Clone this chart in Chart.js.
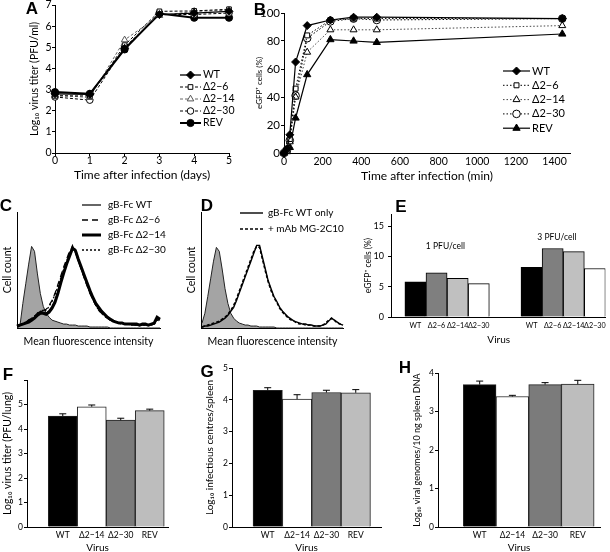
<!DOCTYPE html>
<html>
<head>
<meta charset="utf-8">
<title>Figure</title>
<script src="https://cdn.jsdelivr.net/npm/chart.js@4.4.1/dist/chart.umd.min.js"></script>
<style>
  html, body { margin: 0; padding: 0; background: #fff; }
  #fig { position: relative; width: 610px; height: 552px; overflow: hidden; }
  #fig canvas { position: absolute; }
</style>
</head>
<body>
<div id="fig"></div>
<script>
const W = 610, H = 552;
const SANS = 'Lato, "Open Sans", sans-serif';
const BOLD = '"Liberation Sans", Arial, sans-serif';
const black = '#000';

// A - virus growth in culture (log10 PFU/ml)
const A_DAYS = [0, 1, 2, 3, 4, 5];
const A_WT  = [2.80, 2.78, 4.95, 6.55, 6.62, 6.70];
const A_D6  = [2.70, 2.70, 5.10, 6.70, 6.72, 6.80];
const A_D14 = [2.75, 2.62, 5.35, 6.50, 6.70, 6.75];
const A_D30 = [2.65, 2.50, 5.00, 6.55, 6.55, 6.62];
const A_REV = [2.88, 2.80, 4.90, 6.60, 6.40, 6.40];

// B - eGFP+ cells (%) after infection
const B_MIN = [0, 15, 30, 60, 120, 240, 360, 480, 1440];
const B_WT  = [0, 3, 13, 65, 91, 95, 97, 97, 96];
const B_D6  = [0, 3, 10, 46, 84, 95, 96, 96, 96];
const B_D14 = [0, 2, 8, 40, 72, 88, 88, 88, 91];
const B_D30 = [0, 2, 9, 41, 82, 94, 96, 95, 96];
const B_REV = [0, 1, 4, 25, 56, 81, 80, 79, 85];

const STRAINS = ['WT', 'Δ2−6', 'Δ2−14', 'Δ2−30', 'REV'];

// C - gB-Fc binding histograms (50 channels, relative counts)
const C_NEG = [0, 2, 25, 45, 65, 83, 78, 55, 35, 22, 15, 11, 8, 7, 6, 5, 4, 4, 3, 3, 3, 2, 2, 2, 2, 1, 1, 1, 1, 1, 1, 1, 0, 0, 0, 0, 0, 0, 0, 0, 0, 0, 0, 0, 0, 0, 0, 0, 0, 0];
const C_WT  = [2, 3, 4, 5, 7, 9, 11, 14, 17, 16, 15, 18, 22, 28, 37, 48, 58, 65, 74, 84, 77, 68, 60, 52, 44, 36, 30, 24, 19, 16, 13, 10, 8, 7, 6, 5, 5, 4, 4, 4, 3, 4, 3, 3, 4, 3, 4, 4, 10, 8];
const C_D6  = [2, 3, 4, 6, 8, 10, 12, 15, 18, 18, 19, 23, 28, 35, 44, 53, 62, 70, 78, 82, 78, 69, 60, 51, 43, 35, 29, 23, 18, 15, 12, 10, 8, 7, 6, 5, 4, 4, 4, 3, 3, 3, 3, 3, 3, 3, 3, 4, 9, 7];
const C_D14 = [2, 3, 4, 5, 6, 8, 10, 13, 15, 15, 14, 16, 20, 26, 35, 46, 56, 65, 73, 81, 79, 70, 62, 54, 46, 38, 31, 25, 21, 17, 14, 11, 9, 7, 6, 5, 5, 4, 4, 4, 4, 4, 3, 4, 4, 3, 4, 5, 11, 9];
const C_D30 = [2, 3, 5, 6, 8, 10, 12, 15, 17, 17, 18, 22, 27, 34, 42, 51, 60, 68, 76, 82, 80, 71, 62, 53, 44, 36, 29, 23, 18, 15, 12, 10, 8, 7, 6, 5, 4, 4, 4, 3, 3, 3, 3, 3, 3, 3, 3, 4, 8, 7];
const C_KEYS = ['gB-Fc WT', 'gB-Fc Δ2−6', 'gB-Fc Δ2−14', 'gB-Fc Δ2−30'];

// D - blocking with mAb
const D_NEG = [5, 15, 32, 50, 68, 82, 78, 60, 40, 25, 15, 10, 7, 5, 4, 3, 3, 2, 2, 2, 1, 1, 1, 1, 1, 1, 0, 0, 0, 0, 0, 0, 0, 0, 0, 0, 0, 0, 0, 0, 0, 0, 0, 0, 0, 0, 0, 0, 0, 0];
const D_WT  = [1, 2, 2, 3, 4, 5, 6, 8, 10, 13, 17, 21, 28, 36, 44, 52, 60, 68, 76, 84, 84, 72, 60, 48, 40, 32, 27, 21, 17, 14, 11, 9, 7, 6, 5, 4, 4, 3, 3, 2, 2, 2, 3, 4, 7, 10, 8, 6, 4, 3];
const D_MAB = [1, 2, 3, 4, 5, 6, 7, 9, 11, 14, 18, 23, 30, 38, 46, 54, 62, 70, 78, 83, 82, 70, 58, 47, 38, 31, 26, 20, 16, 13, 10, 8, 7, 5, 4, 4, 3, 3, 3, 2, 2, 2, 3, 5, 8, 10, 8, 5, 4, 3];
const D_KEYS = ['gB-Fc WT only', '+ mAb MG-2C10'];

// E - eGFP+ cells (%) at two doses
const E_VIRUS = ['WT', 'Δ2−6', 'Δ2−14', 'Δ2−30'];
const E_DOSE = ['1 PFU/cell', '3 PFU/cell'];
const E_1PFU = [5.8, 7.3, 6.4, 5.5];
const E_3PFU = [8.2, 11.3, 10.8, 8.0];

// F, G, H - in vivo (mean + SEM)
const FGH_VIRUS = ['WT', 'Δ2−14', 'Δ2−30', 'REV'];
const F_LUNG = [4.53, 4.91, 4.36, 4.75];
const F_ERR  = [0.09, 0.07, 0.08, 0.06];
const G_SPLEEN = [4.30, 4.02, 4.23, 4.22];
const G_ERR    = [0.08, 0.14, 0.07, 0.10];
const H_GENOMES = [3.70, 3.39, 3.70, 3.71];
const H_ERR     = [0.09, 0.03, 0.05, 0.10];

// ---- plugins (panel letters and keys are given in page coordinates)
const panelTag = {
  id: 'panelTag',
  afterDraw(chart, _a, o) {
    if (!o.text) return;
    const ctx = chart.ctx;
    ctx.save();
    ctx.translate(-chart.canvas._ox, -chart.canvas._oy);
    ctx.font = 'bold 17px ' + BOLD;
    ctx.fillStyle = black;
    ctx.textAlign = 'center';
    ctx.textBaseline = 'middle';
    ctx.fillText(o.text, o.x, o.y);
    ctx.restore();
  }
};

const keyLegend = {
  id: 'keyLegend',
  afterDraw(chart, _a, o) {
    if (!o.x) return;
    const ctx = chart.ctx;
    ctx.save();
    ctx.translate(-chart.canvas._ox, -chart.canvas._oy);
    ctx.font = o.size + 'px ' + SANS;
    ctx.textBaseline = 'middle';
    let row = 0;
    chart.data.datasets.forEach(ds => {
      if (ds.noKey) return;
      const y = o.y + row * o.dy;
      row++;
      ctx.strokeStyle = ds.borderColor;
      ctx.lineWidth = ds.borderWidth;
      ctx.setLineDash(ds.borderDash || []);
      ctx.beginPath();
      ctx.moveTo(o.x, y);
      ctx.lineTo(o.x + o.len, y);
      ctx.stroke();
      ctx.setLineDash([]);
      if (ds.pointRadius > 0) {
        ctx.fillStyle = ds.pointBackgroundColor;
        ctx.strokeStyle = ds.pointBorderColor;
        ctx.lineWidth = ds.pointBorderWidth;
        Chart.helpers.drawPoint(ctx, { pointStyle: ds.pointStyle, radius: ds.pointRadius, borderWidth: ds.pointBorderWidth, rotation: 0 }, o.x + o.len / 2, y);
      }
      ctx.fillStyle = black;
      ctx.fillText(ds.label, o.x + o.len + o.gap, y);
    });
    ctx.restore();
  }
};

const errBars = {
  id: 'errBars',
  afterDatasetsDraw(chart) {
    const ctx = chart.ctx, ys = chart.scales.y;
    chart.data.datasets.forEach((ds, di) => {
      if (!ds.errors) return;
      chart.getDatasetMeta(di).data.forEach((bar, i) => {
        const top = ys.getPixelForValue(ds.data[i].y + ds.errors[i]);
        ctx.save();
        ctx.strokeStyle = black;
        ctx.lineWidth = 1;
        ctx.beginPath();
        ctx.moveTo(bar.x, bar.y);
        ctx.lineTo(bar.x, top);
        ctx.moveTo(bar.x - 3.5, top);
        ctx.lineTo(bar.x + 3.5, top);
        ctx.stroke();
        ctx.restore();
      });
    });
  }
};

const notes = {
  id: 'notes',
  afterDraw(chart, _a, o) {
    if (!o.items) return;
    const ctx = chart.ctx;
    ctx.save();
    ctx.font = o.size + 'px ' + SANS;
    ctx.fillStyle = black;
    ctx.textAlign = 'center';
    ctx.textBaseline = 'middle';
    o.items.forEach(it => {
      ctx.fillText(it.text, chart.scales.x.getPixelForValue(it.x), chart.scales.y.getPixelForValue(it.y));
    });
    ctx.restore();
  }
};

Chart.defaults.animation = false;
Chart.defaults.responsive = false;
Chart.defaults.color = black;
Chart.defaults.font.family = SANS;
Chart.defaults.plugins.legend.display = false;
Chart.defaults.plugins.tooltip.enabled = false;
Chart.register(panelTag, keyLegend, errBars, notes);

// ---- helpers
function linAxis(min, max, step, o) {
  const ax = {
    type: 'linear', min, max, offset: false,
    ticks: {
      stepSize: step, display: o.size > 0, color: black, autoSkip: false, maxRotation: 0,
      includeBounds: o.bounds !== false,
      font: { family: SANS, size: o.size || 10, lineHeight: o.lh || 1.2 },
      padding: o.pad || 0,
      callback: o.cb || (v => String(v))
    },
    grid: o.tick ? { drawOnChartArea: false, drawTicks: true, tickLength: o.tick, color: black, offset: false }
                 : { display: false, drawTicks: false, offset: false },
    border: { display: true, color: black, width: 1 },
    title: { display: true, text: o.title, color: black, padding: 0, font: { family: SANS, size: o.tsize, lineHeight: 1.2 } }
  };
  if (o.at) ax.afterBuildTicks = s => { s.ticks = o.at.map(value => ({ value })); };
  return ax;
}

// one canvas per panel; box = canvas rect, area = plot rect, both in page pixels
function draw(type, datasets, box, area, yW, xH, scales, plugins) {
  const c = document.createElement('canvas');
  c.width = box.w; c.height = box.h;
  c.style.left = box.x + 'px';
  c.style.top = box.y + 'px';
  c._ox = box.x; c._oy = box.y;
  document.getElementById('fig').appendChild(c);
  scales.x.afterFit = s => { s.height = xH; };
  scales.y.afterFit = s => { s.width = yW; };
  return new Chart(c, {
    type,
    data: { datasets },
    options: {
      layout: { padding: {
        left: area.l - yW - box.x, top: area.t - box.y,
        right: box.x + box.w - area.r, bottom: box.y + box.h - area.b - xH
      } },
      scales,
      plugins
    }
  });
}

function series(label, xs, ys, st) {
  return Object.assign({
    label,
    data: xs.map((x, i) => ({ x, y: ys[i] })),
    borderColor: black, pointBorderColor: black, pointBorderWidth: 1,
    borderWidth: 1, pointRadius: 0, tension: 0, clip: false, fill: false
  }, st);
}

// ---- A
const A_STYLE = [
  { pointStyle: 'rectRot', pointRadius: 4, pointBackgroundColor: black, borderWidth: 1.3 },
  { pointStyle: 'rect', pointRadius: 3.3, pointBackgroundColor: '#fff', borderDash: [3, 2] },
  { pointStyle: 'triangle', pointRadius: 3.8, pointBackgroundColor: '#fff', borderDash: [3, 2], borderColor: '#666', pointBorderColor: '#555' },
  { pointStyle: 'circle', pointRadius: 3.3, pointBackgroundColor: '#fff', borderDash: [3, 2] },
  { pointStyle: 'circle', pointRadius: 3.6, pointBackgroundColor: black, borderWidth: 2 }
];
draw('line', [A_WT, A_D6, A_D14, A_D30, A_REV].map((v, i) => series(STRAINS[i], A_DAYS, v, A_STYLE[i])),
  { x: 0, y: 0, w: 250, h: 190 }, { l: 55, t: 3, r: 229, b: 153 }, 26.3, 29.2, {
    x: linAxis(0, 5, 1, { size: 10.5, lh: 0.6, pad: 1, tick: 3, title: 'Time after infection (days)', tsize: 12 }),
    y: linAxis(0, 7, 1, { size: 10.5, lh: 0.5, pad: 0.5, tick: 3, title: 'Log₁₀ virus titer (PFU/ml)', tsize: 10.5 })
  }, { panelTag: { text: 'A', x: 32, y: 9 }, keyLegend: { x: 180, y: 75, dy: 12, len: 21, gap: 2, size: 10.5 } });

// ---- B
const B_STYLE = [
  { pointStyle: 'rectRot', pointRadius: 4, pointBackgroundColor: black, borderWidth: 1.2 },
  { pointStyle: 'rect', pointRadius: 3.5, pointBackgroundColor: '#fff', borderDash: [1.5, 2] },
  { pointStyle: 'triangle', pointRadius: 4, pointBackgroundColor: '#fff', borderDash: [1.5, 2], borderColor: '#444' },
  { pointStyle: 'circle', pointRadius: 3.8, pointBackgroundColor: '#fff', borderDash: [1.5, 2] },
  { pointStyle: 'triangle', pointRadius: 4.2, pointBackgroundColor: black, borderWidth: 1.2 }
];
draw('line', [B_WT, B_D6, B_D14, B_D30, B_REV].map((v, i) => series(STRAINS[i], B_MIN, v, B_STYLE[i])),
  { x: 250, y: 0, w: 360, h: 190 }, { l: 284, t: 13, r: 570, b: 153 }, 29.5, 30.2, {
    x: linAxis(0, 1480, 200, { size: 10.5, lh: 0.6, pad: 5.2, bounds: false, title: 'Time after infection (min)', tsize: 12 }),
    y: linAxis(0, 100, 20, { size: 11.5, lh: 0.5, pad: 1, tick: 3, title: 'eGFP⁺ cells (%)', tsize: 8 })
  }, { panelTag: { text: 'B', x: 260, y: 10 }, keyLegend: { x: 503, y: 71, dy: 14.3, len: 27, gap: 2, size: 11 } });

// ---- C and D histograms
const CH = C_NEG.map((_, i) => i);
function negative(vals) {
  return series('neg', CH, vals, { noKey: true, fill: 'origin', backgroundColor: '#a4a4a4', borderColor: '#222', borderWidth: 1 });
}
const C_STYLE = [
  { borderWidth: 1.2 },
  { borderWidth: 1.3, borderDash: [6, 4] },
  { borderWidth: 3 },
  { borderWidth: 1.3, borderDash: [2, 2] }
];
draw('line', [C_WT, C_D6, C_D14, C_D30].map((v, i) => series(C_KEYS[i], CH, v, C_STYLE[i])).concat([negative(C_NEG)]),
  { x: 0, y: 190, w: 185, h: 165 }, { l: 17, t: 212, r: 160, b: 328 }, 16.0, 20.3, {
    x: linAxis(0, 49, 10, { size: 0, title: 'Mean fluorescence intensity', tsize: 10.5 }),
    y: linAxis(0, 118, 20, { size: 0, title: 'Cell count', tsize: 10.5 })
  }, { panelTag: { text: 'C', x: 6, y: 206 }, keyLegend: { x: 82, y: 205, dy: 15, len: 19, gap: 7, size: 10 } });

const D_STYLE = [{ borderWidth: 1.4 }, { borderWidth: 1.5, borderDash: [3, 2] }];
draw('line', [D_WT, D_MAB].map((v, i) => series(D_KEYS[i], CH, v, D_STYLE[i])).concat([negative(D_NEG)]),
  { x: 185, y: 190, w: 170, h: 165 }, { l: 202, t: 212, r: 343, b: 328 }, 16.3, 20.3, {
    x: linAxis(0, 49, 10, { size: 0, title: 'Mean fluorescence intensity', tsize: 10.5 }),
    y: linAxis(0, 118, 20, { size: 0, title: 'Cell count', tsize: 10.5 })
  }, { panelTag: { text: 'D', x: 207, y: 206 }, keyLegend: { x: 240, y: 213, dy: 16, len: 23, gap: 5, size: 10 } });

// ---- E grouped bars
const E_FILL = ['#000', '#7f7f7f', '#c0c0c0', '#fff'];
const E_GAP = 5.5;
const E_POS = [0, 1].flatMap(g => E_VIRUS.map((_, i) => i + g * E_GAP));
const E_VALS = E_1PFU.concat(E_3PFU);
draw('bar', [{
    data: E_POS.map((x, i) => ({ x, y: E_VALS[i] })),
    backgroundColor: E_POS.map((_, i) => E_FILL[i % 4]),
    borderColor: black, borderWidth: 1, barPercentage: 1, categoryPercentage: 1
  }],
  { x: 355, y: 190, w: 255, h: 165 }, { l: 392, t: 214, r: 607, b: 317 }, 29.1, 29, {
    x: linAxis(-1.11, 9.0, 1, { size: 7.2, pad: 4.2, at: E_POS, cb: (v, i) => E_VIRUS[i % 4], title: 'Virus', tsize: 10 }),
    y: linAxis(0, 17, 5, { size: 9, lh: 0.5, pad: 4, tick: 4, bounds: false, title: 'eGFP⁺ cells (%)', tsize: 8.5 })
  }, {
    panelTag: { text: 'E', x: 401, y: 207 },
    notes: { size: 8.5, items: [{ text: E_DOSE[0], x: 1.42, y: 11.7 }, { text: E_DOSE[1], x: 6.7, y: 13.2 }] }
  });

// ---- F, G, H bars with error bars
const FGH_FILL = ['#000', '#fff', '#7b7b7b', '#bdbdbd'];
const FGH_POS = FGH_VIRUS.map((_, i) => i);
function barSet(vals, errs) {
  return [{
    data: vals.map((y, i) => ({ x: FGH_POS[i], y })),
    errors: errs,
    backgroundColor: FGH_FILL, borderColor: '#222', borderWidth: 1,
    barPercentage: 1, categoryPercentage: 1
  }];
}
const fghX = (min, max) => linAxis(min, max, 1, { size: 8.5, pad: 2.9, at: FGH_POS, cb: (v, i) => FGH_VIRUS[i], title: 'Virus', tsize: 10 });

draw('bar', barSet(F_LUNG, F_ERR), { x: 0, y: 355, w: 200, h: 197 }, { l: 27, t: 380, r: 168, b: 527 }, 25.3, 27, {
    x: fghX(-1.234, 3.63),
    y: linAxis(0, 6, 1, { size: 8.5, lh: 0.5, pad: 1, tick: 3, cb: v => (v < 6 ? String(v) : ''), title: 'Log₁₀ virus titer (PFU/lung)', tsize: 10.5 })
  }, { panelTag: { text: 'F', x: 8, y: 375 } });

draw('bar', barSet(G_SPLEEN, G_ERR), { x: 200, y: 355, w: 200, h: 197 }, { l: 232, t: 368, r: 381, b: 527 }, 28, 27, {
    x: fghX(-1.217, 3.86),
    y: linAxis(0, 5, 1, { size: 8.5, lh: 0.5, pad: 1, tick: 3, title: 'Log₁₀ infectious centres/spleen', tsize: 10 })
  }, { panelTag: { text: 'G', x: 207, y: 372 } });

draw('bar', barSet(H_GENOMES, H_ERR), { x: 400, y: 355, w: 210, h: 197 }, { l: 438, t: 373, r: 600, b: 527 }, 26.4, 27, {
    x: fghX(-1.275, 3.68),
    y: linAxis(0, 4, 1, { size: 8.5, lh: 0.5, pad: 1, tick: 3, title: 'Log₁₀ viral genomes/10 ng spleen DNA', tsize: 9 })
  }, { panelTag: { text: 'H', x: 405, y: 368 } });
</script>
</body>
</html>
